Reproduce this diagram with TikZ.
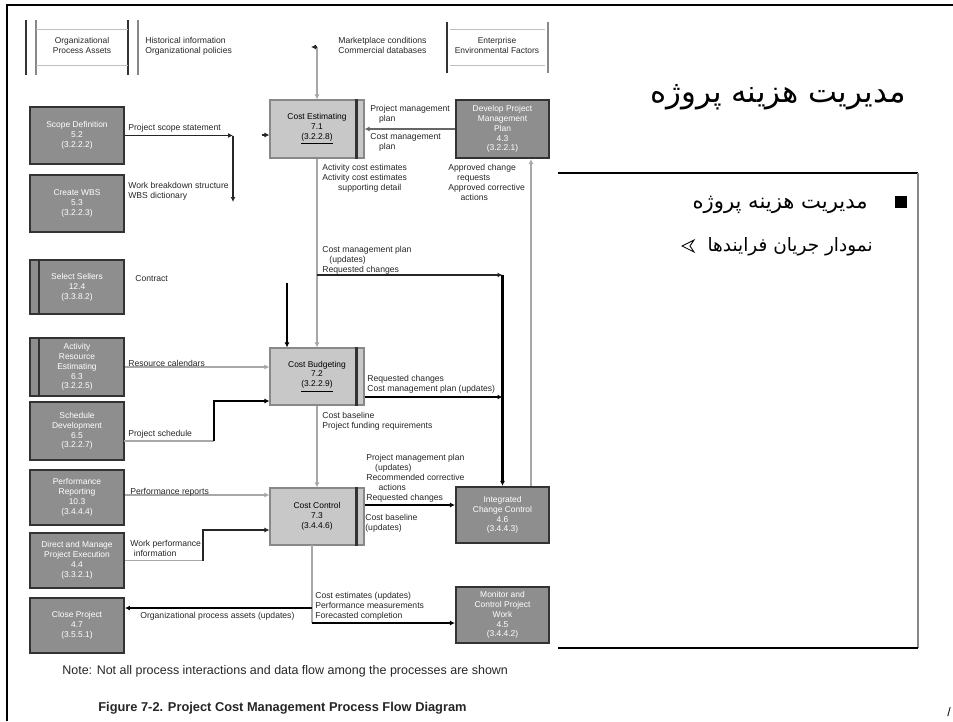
\documentclass[tikz,border=0pt]{standalone}
\usepackage{fontspec}
\setmainfont{Liberation Sans}
\newfontfamily\arabicfont[Script=Arabic]{DejaVu Sans}
\TeXXeTstate=1
\usetikzlibrary{arrows.meta,calc}
\definecolor{boxdark}{HTML}{8E8E8E}
\definecolor{boxlight}{HTML}{C8C8C8}
\definecolor{bord}{HTML}{333333}
\definecolor{lgray}{HTML}{A8A8A8}
\definecolor{mgray}{HTML}{888888}
\tikzset{
  arr/.style={-{Latex[length=1mm,width=1mm]}},
  thinblk/.style={line width=0.6pt, draw=black!85},
  thickblk/.style={line width=1.2pt, draw=black},
  grayln/.style={line width=0.7pt, draw=lgray},
  lab/.style={font=\fontsize{4.9}{5.7}\selectfont, align=left, anchor=north west, inner sep=0pt, text=black!85},
  boxtxt/.style={font=\fontsize{4.8}{5.6}\selectfont, align=center, inner sep=0pt},
  lbox/.style={boxtxt, draw=bord, fill=boxdark, line width=1.1pt, minimum width=1.88cm, text=white},
  mbox/.style={boxtxt, draw=mgray, fill=boxlight, line width=0.6pt, minimum width=1.88cm, text=black},
  rbox/.style={boxtxt, draw=bord, fill=boxdark, line width=1.2pt, minimum width=1.86cm, text=white},
  storetxt/.style={font=\fontsize{4.8}{5.7}\selectfont, align=center, inner sep=0pt, text=black!85},
}
\begin{document}
\begin{tikzpicture}[x=0.02cm,y=-0.02cm]
\useasboundingbox (0,0) rectangle (953,721);
% slide frame
\draw[line width=1.2pt] (7,721) -- (7,5) -- (953,5);

% data stores
\draw[line width=1.2pt, bord] (26,20) -- (26,75);
\draw[line width=0.7pt, mgray] (36,20) -- (36,75);
\draw[line width=1.2pt, bord] (128,20) -- (128,75);
\draw[line width=0.7pt, mgray] (138,20) -- (138,75);
\draw[line width=0.4pt, black!25] (36,29) -- (128,29) (36,65) -- (128,65);
\node[storetxt] (opa) at (82,45) {Organizational\\Process Assets};
\draw[line width=1.2pt, bord] (447,22) -- (447,73);
\draw[line width=0.8pt, mgray] (548,22) -- (548,73);
\draw[line width=0.4pt, black!25] (450,29) -- (545,29) (450,65) -- (545,65);
\node[storetxt] (eef) at (497,45) {Enterprise\\Environmental Factors};
\node[lab] (lopa) at (145,37) {Historical information\\Organizational policies};
\node[lab] (leef) at (338,37) {Marketplace conditions\\Commercial databases};

% left boxes
\node[lbox, minimum height=1.14cm] (sd) at (77,135.5) {Scope Definition\\5.2\\(3.2.2.2)};
\node[lbox, minimum height=1.14cm] (wbs) at (77,203.5) {Create WBS\\5.3\\(3.2.2.3)};
\node[lbox, minimum height=1.08cm] (ss) at (77,287) {Select Sellers\\12.4\\(3.3.8.2)};
\node[lbox, minimum height=1.16cm] (are) at (77,367) {Activity\\Resource\\Estimating\\6.3\\(3.2.2.5)};
\node[lbox, minimum height=1.16cm] (sdv) at (77,431) {Schedule\\Development\\6.5\\(3.2.2.7)};
\node[lbox, minimum height=1.10cm] (pr) at (77,497.5) {Performance\\Reporting\\10.3\\(3.4.4.4)};
\node[lbox, minimum height=1.10cm] (dmpe) at (77,560.5) {Direct and Manage\\Project Execution\\4.4\\(3.3.2.1)};
\node[lbox, minimum height=1.10cm] (cp) at (77,625.5) {Close Project\\4.7\\(3.5.5.1)};
\draw[line width=1.2pt, bord] ($(ss.north west)+(10,0)$) -- ($(ss.south west)+(10,0)$);
\draw[line width=1.2pt, bord] ($(are.north west)+(10,0)$) -- ($(are.south west)+(10,0)$);

% middle boxes
\node[mbox, minimum height=1.16cm] (ce) at (317,129) {Cost Estimating\\7.1\\\underline{(3.2.2.8)}};
\node[mbox, minimum height=1.14cm] (cb) at (317,376.5) {Cost Budgeting\\7.2\\\underline{(3.2.2.9)}};
\node[mbox, minimum height=1.14cm] (cc) at (317,516.5) {Cost Control\\7.3\\(3.4.4.6)};
\foreach \b in {ce,cb,cc}{
  \draw[line width=1.6pt, bord] ($(\b.north east)+(-8,0)$) -- ($(\b.south east)+(-8,0)$);
}

% right boxes
\node[rbox, minimum height=1.16cm] (pmp) at (502.5,129) {Develop Project\\Management\\Plan\\4.3\\(3.2.2.1)};
\node[rbox, minimum height=1.12cm] (icc) at (502.5,515) {Integrated\\Change Control\\4.6\\(3.4.4.3)};
\node[rbox, minimum height=1.12cm] (mc) at (502.5,615) {Monitor and\\Control Project\\Work\\4.5\\(3.4.4.2)};

% connectors
\coordinate (j1) at (233,135.5);
\coordinate (j2) at (233,202);
\draw[thinblk, arr] (sd.east) -- (j1);
\draw[thinblk, arr] (j1) -- (j2);
\coordinate (s1) at (262,135);
\draw[thinblk, arr] (s1) -- (s1 -| ce.west);
\coordinate (e1) at (317,47);
\coordinate (e2) at (311,47);
\draw[grayln, arr] (e1) -- (ce.north);
\draw[thinblk, arr] (e1) -- (e2);
\draw[line width=0.7pt, draw=black!60, arr] (pmp.west) -- (ce.east);
\draw[grayln, arr] (ce.south) -- (cb.north);
\coordinate (h1) at (317,275);
\coordinate (h2) at (502.5,275);
\draw[thinblk, arr] (h1) -- (h2);
\draw[thickblk, arr] (h2) -- (icc.north);
\draw[grayln, arr] ($(icc.north)+(28.5,0)$) coordinate (u1) -- (u1 |- pmp.south);
\coordinate (k1) at (287,283);
\draw[thickblk, arr] (k1) -- (k1 |- cb.north);
\draw[grayln, arr] (are.east) -- (are.east -| cb.west);
\coordinate (p1) at (124,441);
\coordinate (p2) at (214,441);
\coordinate (p3) at (214,401);
\draw[grayln] (p1) -- (p2);
\draw[thickblk, arr] (p2) -- (p3) -- (p3 -| cb.west);
\draw[thickblk, arr] ($(cb.east)+(0,20.5)$) coordinate (c2) -- (c2 -| icc.north);
\draw[grayln, arr] (cb.south) -- (cc.north);
\draw[grayln, arr] ($(pr.east)+(0,-2.5)$) coordinate (r1) -- (r1 -| cc.west);
\coordinate (w1) at (203,560.5);
\coordinate (w2) at (203,530);
\draw[grayln] (dmpe.east) -- (w1);
\draw[thinblk, arr] (w1) -- (w2) -- (w2 -| cc.west);
\draw[thickblk, arr] ($(cc.east)+(0,-11.5)$) coordinate (c3) -- (c3 -| icc.west);
\coordinate (q0) at (312,545);
\coordinate (q2) at (312,608);
\coordinate (q3) at (312,623);
\draw[grayln] (q0) -- (q3);
\draw[thickblk, arr] (q2) -- (q2 -| cp.east);
\draw[thickblk, arr] (q3) -- (q3 -| mc.west);

% labels
\node[lab] (l1) at (128,124) {Project scope statement};
\node[lab] (l2) at (128,182) {Work breakdown structure\\WBS dictionary};
\node[lab] (l3) at (135,275) {Contract};
\node[lab] (l4) at (128,360) {Resource calendars};
\node[lab] (l5) at (128,430) {Project schedule};
\node[lab] (l6) at (130,488) {Performance reports};
\node[lab] (l7) at (130,540) {Work performance\\\hspace*{2pt}information};
\node[lab] (l8) at (140,612) {Organizational process assets (updates)};
\node[lab] (l9) at (370,105) {Project management\\\hspace*{5pt}plan};
\node[lab] (l10) at (370,133) {Cost management\\\hspace*{5pt}plan};
\node[lab] (l11) at (322,164) {Activity cost estimates\\Activity cost estimates\\\hspace*{9pt}supporting detail};
\node[lab] (l12) at (448,164) {Approved change\\\hspace*{5pt}requests\\Approved corrective\\\hspace*{7pt}actions};
\node[lab] (l13) at (322,246) {Cost management plan\\\hspace*{4pt}(updates)\\Requested changes};
\node[lab] (l14) at (367,375) {Requested changes\\Cost management plan (updates)};
\node[lab] (l15) at (322,412) {Cost baseline\\Project funding requirements};
\node[lab] (l16) at (366,454) {Project management plan\\\hspace*{5pt}(updates)\\Recommended corrective\\\hspace*{7pt}actions\\Requested changes};
\node[lab] (l17) at (365,514) {Cost baseline\\(updates)};
\node[lab] (l18) at (315,592) {Cost estimates (updates)\\Performance measurements\\Forecasted completion};

% note and caption
\node[font=\fontsize{7.1}{8}\selectfont, anchor=west, inner sep=0pt, text=black!85] (note) at (62,671) {Note: Not all process interactions and data flow among the processes are shown};
\node[font=\bfseries\fontsize{7.3}{8.5}\selectfont, anchor=west, inner sep=0pt, text=black!85] (cap) at (98,708) {Figure 7-2. Project Cost Management Process Flow Diagram};

% slide text box
\fill[white] (558,173) rectangle (918,648);
\draw[line width=0.6pt, black] (558,173) -- (918,173);
\draw[line width=1.2pt, mgray] (918,173) -- (918,648);
\draw[line width=0.6pt, black] (558,648) -- (918,648);

\node[anchor=east, inner sep=0pt, font={\arabicfont\fontsize{17.5}{20}\selectfont}] (title) at (906,97) {\beginR مدیریت هزینه پروژه\endR};
\node[fill=black, minimum size=0.23cm, inner sep=0pt] (sq) at (901,202) {};
\node[anchor=east, inner sep=0pt, font={\arabicfont\fontsize{12}{14}\selectfont}] (b1) at (868,205) {\beginR مدیریت هزینه پروژه\endR};
\node[anchor=east, inner sep=0pt, font={\arabicfont\fontsize{10.5}{12}\selectfont}] (b2) at (873,247) {\beginR نمودار جریان فرایندها\endR};
\draw[line width=0.5pt] (682,246) -- (694,240) -- (690,246) -- (694,252) -- cycle;
\node[anchor=center, inner sep=0pt, font=\fontsize{7}{8}\selectfont] (pg) at (949,712) {/};
\end{tikzpicture}
\end{document}
